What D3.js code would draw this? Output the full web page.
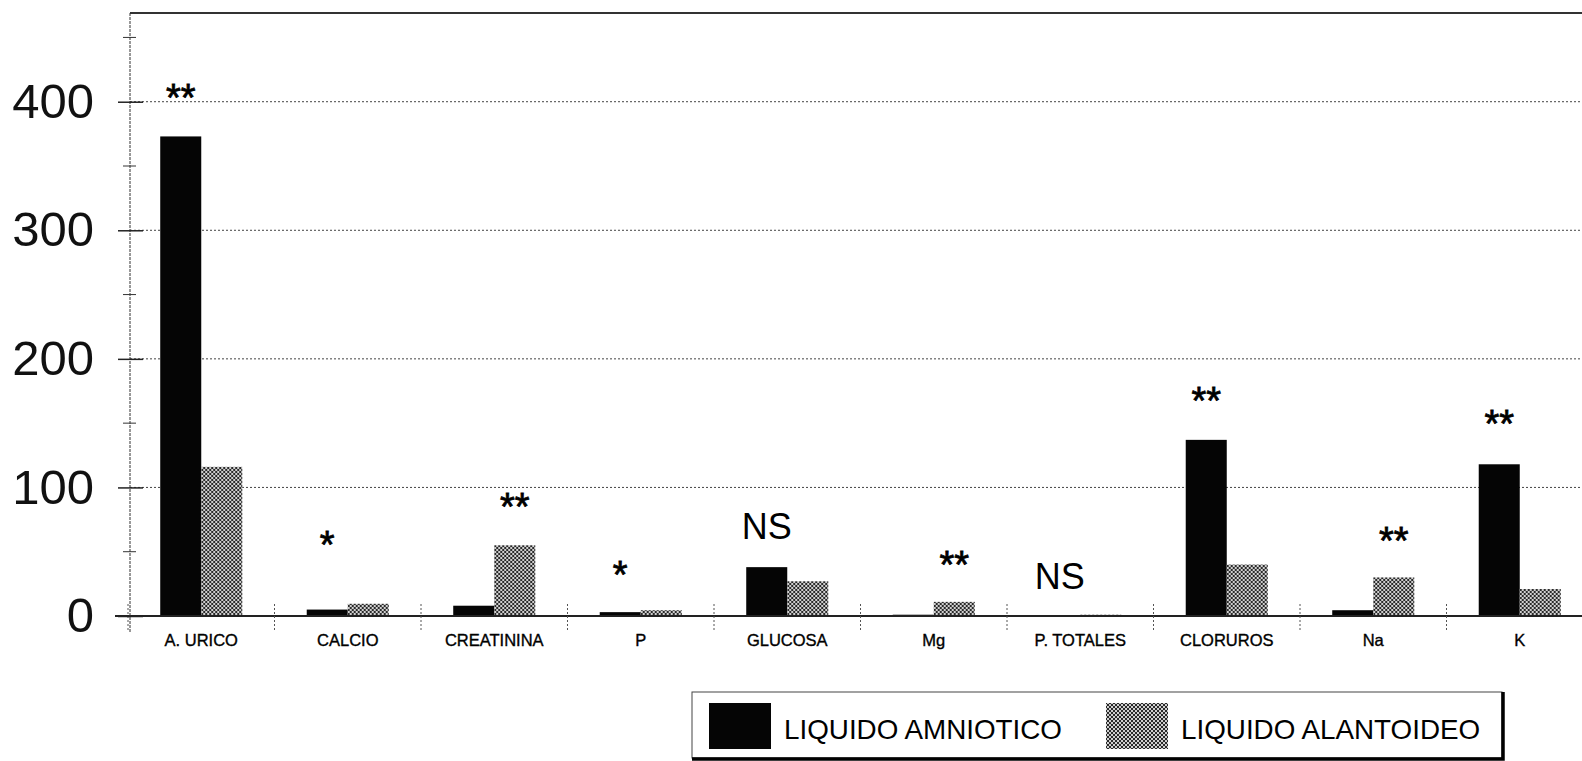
<!DOCTYPE html>
<html>
<head>
<meta charset="utf-8">
<script src="https://cdnjs.cloudflare.com/ajax/libs/d3/7.8.5/d3.min.js"></script>
<style>
  body { margin: 0; background: #fff; }
  svg { display: block; font-family: "Liberation Sans", Arial, sans-serif; }
</style>
</head>
<body>
<div id="chart"></div>
<script>
// data
var categories = ["A. URICO", "CALCIO", "CREATININA", "P", "GLUCOSA", "Mg", "P. TOTALES", "CLORUROS", "Na", "K"];
var series = ["LIQUIDO AMNIOTICO", "LIQUIDO ALANTOIDEO"];
var amniotico = [373, 5, 8, 3, 38, 1, 0.5, 137, 4.5, 118];
var alantoideo = [116, 9.5, 55, 4.5, 27, 11, 1, 40, 30, 21];
var yTicks = [0, 100, 200, 300, 400];
var yMinor = [50, 150, 250, 350, 450];
// significance marks: text, bar it sits over, level of its centre
var marks = ["**", "*", "**", "*", "NS", "**", "NS", "**", "**", "**"];
var markSeries = [0, 0, 1, 0, 0, 1, 0, 0, 1, 0];
var markLevel = [410, 62, 92, 39, 70, 47, 31, 174, 65, 156];

var W = 1582, H = 761;
var axisX = 130, baseY = 616, topY = 13;

var svg = d3.select("#chart").append("svg")
    .attr("width", W)
    .attr("height", H);

// hatched fill of the second series
var defs = svg.append("defs");
var pat = defs.append("pattern")
    .attr("id", "hatch")
    .attr("patternUnits", "userSpaceOnUse")
    .attr("width", 4)
    .attr("height", 4);
pat.append("rect").attr("width", 4).attr("height", 4).attr("fill", "#cfcfcf");
pat.append("path")
    .attr("d", "M0,0 L4,4 M4,0 L0,4")
    .attr("stroke", "#2a2a2a")
    .attr("stroke-width", 1);

var y = d3.scaleLinear().domain([0, 469]).range([baseY, topY]);

var x = d3.scaleBand()
    .domain(categories)
    .range([128, 1593])
    .paddingInner(0.44)
    .paddingOuter(0.22);
var xs = d3.scaleBand().domain(series).range([0, x.bandwidth()]);
var gap = (x.step() - x.bandwidth()) / 2;

// grid
svg.append("g").selectAll("line")
    .data(yTicks.filter(function(d) { return d > 0; }))
    .join("line")
    .attr("x1", axisX).attr("x2", W)
    .attr("y1", function(d) { return y(d); })
    .attr("y2", function(d) { return y(d); })
    .attr("stroke", "#444")
    .attr("stroke-width", 1)
    .attr("stroke-dasharray", "2,2");

// top frame
svg.append("line")
    .attr("x1", axisX).attr("x2", W)
    .attr("y1", topY).attr("y2", topY)
    .attr("stroke", "#333").attr("stroke-width", 2);

// bars
var values = [amniotico, alantoideo];
var groups = svg.append("g").selectAll("g")
    .data(categories)
    .join("g")
    .attr("transform", function(d) { return "translate(" + x(d) + ",0)"; });

groups.selectAll("rect")
    .data(function(d, i) { return series.map(function(s, j) { return {s: s, v: values[j][i]}; }); })
    .join("rect")
    .attr("x", function(d) { return xs(d.s); })
    .attr("width", xs.bandwidth())
    .attr("y", function(d) { return y(d.v); })
    .attr("height", function(d) { return baseY - y(d.v); })
    .attr("fill", function(d, j) { return j == 0 ? "#050505" : "url(#hatch)"; });

// x baseline and separators
svg.append("line")
    .attr("x1", 115).attr("x2", W)
    .attr("y1", baseY).attr("y2", baseY)
    .attr("stroke", "#222").attr("stroke-width", 2);

svg.append("g").selectAll("line")
    .data(categories)
    .join("line")
    .attr("x1", function(d) { return x(d) - gap; })
    .attr("x2", function(d) { return x(d) - gap; })
    .attr("y1", 604).attr("y2", 630)
    .attr("stroke", "#555")
    .attr("stroke-dasharray", "2,2");

// x labels
var xAxis = svg.append("g")
    .attr("transform", "translate(0," + baseY + ")")
    .call(d3.axisBottom(x).tickSize(0).tickPadding(18));
xAxis.select(".domain").remove();
xAxis.selectAll("text")
    .attr("font-family", "'Liberation Sans', Arial, sans-serif")
    .attr("font-size", 16.5)
    .attr("fill", "#000")
    .attr("stroke", "#000")
    .attr("stroke-width", 0.35);

// y axis
svg.append("line")
    .attr("x1", axisX).attr("x2", axisX)
    .attr("y1", topY).attr("y2", 632)
    .attr("stroke", "#333")
    .attr("stroke-dasharray", "3,1");

var yAxis = svg.append("g")
    .attr("transform", "translate(" + axisX + ",0)")
    .call(d3.axisLeft(y).tickValues(yTicks).tickSize(12).tickPadding(24));
yAxis.select(".domain").remove();
yAxis.selectAll(".tick line").attr("x1", -12).attr("x2", 13).attr("stroke", "#222").attr("stroke-width", 1.5);
yAxis.selectAll("text")
    .attr("font-family", "'Liberation Sans', Arial, sans-serif")
    .attr("font-size", 49)
    .attr("fill", "#111");

svg.append("g").selectAll("line")
    .data(yMinor)
    .join("line")
    .attr("x1", axisX - 7).attr("x2", axisX + 6)
    .attr("y1", function(d) { return y(d); })
    .attr("y2", function(d) { return y(d); })
    .attr("stroke", "#333");

// significance marks
svg.append("g").selectAll("text")
    .data(categories)
    .join("text")
    .attr("x", function(d, i) { return x(d) + xs(series[markSeries[i]]) + xs.bandwidth() / 2; })
    .attr("y", function(d, i) {
        return marks[i] == "NS" ? y(markLevel[i]) + 13 : y(markLevel[i]) + 22;
    })
    .attr("text-anchor", "middle")
    .attr("font-size", function(d, i) { return marks[i] == "NS" ? 36 : 38; })
    .attr("fill", "#000")
    .attr("stroke", "#000")
    .attr("stroke-width", function(d, i) { return marks[i] == "NS" ? 0 : 0.8; })
    .text(function(d, i) { return marks[i]; });

// legend
var lg = svg.append("g");
lg.append("rect")
    .attr("x", 692).attr("y", 692)
    .attr("width", 810).attr("height", 66)
    .attr("fill", "#fff")
    .attr("stroke", "#444").attr("stroke-width", 1);
lg.append("path")
    .attr("d", "M1503,692 L1503,759 L692,759")
    .attr("fill", "none")
    .attr("stroke", "#000").attr("stroke-width", 3.5);

var legendX = [709, 1106];
var items = lg.selectAll("g.item")
    .data(series)
    .join("g")
    .attr("class", "item")
    .attr("transform", function(d, i) { return "translate(" + legendX[i] + ",703)"; });
items.append("rect")
    .attr("width", 62).attr("height", 46)
    .attr("fill", function(d, i) { return i == 0 ? "#050505" : "url(#hatch)"; });
items.append("text")
    .attr("x", 75).attr("y", 36)
    .attr("font-size", 27.8)
    .attr("fill", "#000")
    .text(function(d) { return d; });
</script>
</body>
</html>
